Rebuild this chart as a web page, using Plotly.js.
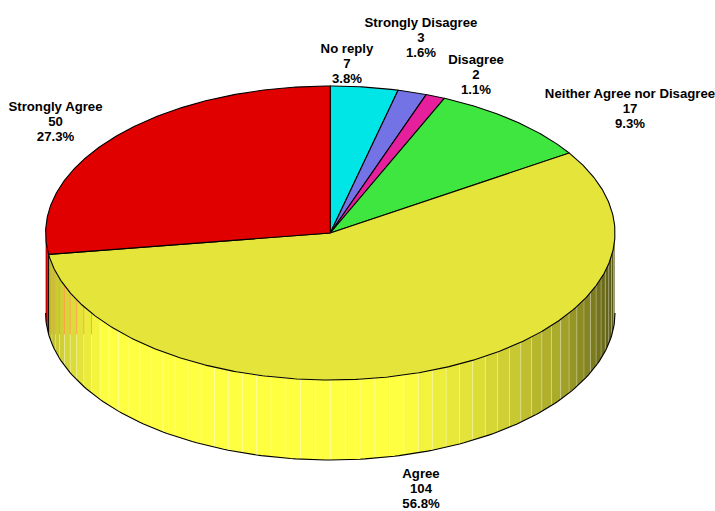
<!DOCTYPE html>
<html>
<head>
<meta charset="utf-8">
<script src="https://cdn.plot.ly/plotly-3.0.1.min.js"></script>
<style>html,body{margin:0;padding:0;background:#fff}#chart{width:715px;height:511px}</style>
</head>
<body>
<div id="chart"></div>
<script>
// Survey responses, clockwise from twelve o'clock
const categories = ['No reply', 'Strongly Disagree', 'Disagree', 'Neither Agree nor Disagree', 'Agree', 'Strongly Agree'];
const counts = [7, 3, 2, 17, 104, 50];
const sliceColors = ['#00e6e6', '#7373e6', '#e61f9c', '#40e640', '#e4e43a', '#e10000'];

// Top of each label block, in pixels
const labelX = [347, 421, 476, 630, 421, 55.5];
const labelY = [49.5, 23.5, 60.5, 94.5, 474.5, 107.5];
const labelLineStep = 15;

// Tilted disc geometry
const cx = 330.3, cy = 233, rx = 284.7, ry = 147, depth = 80;
const facetStep = 3;

const total = counts.reduce((a, b) => a + b, 0);
const rad = d => d * Math.PI / 180;
const px = t => cx + rx * Math.sin(rad(t));
const py = t => cy - ry * Math.cos(rad(t));

// Wall brightness by angle away from six o'clock (negative = left)
const shadeStops = [[-90, 0.74], [-84, 0.78], [-72, 0.9], [-63, 0.98], [-57, 1.05], [-52, 1.12], [15, 1.12], [20, 1.06],
  [29, 0.99], [39, 0.9], [44.5, 0.82], [54, 0.73], [61, 0.62], [71, 0.5], [81, 0.4], [90, 0.33]];
function shade(a) {
  for (let i = 1; i < shadeStops.length; i++) {
    if (a <= shadeStops[i][0]) {
      const [a0, s0] = shadeStops[i - 1], [a1, s1] = shadeStops[i];
      return s0 + (s1 - s0) * (a - a0) / (a1 - a0);
    }
  }
  return shadeStops[shadeStops.length - 1][1];
}
function shadedColor(hex, f) {
  const ch = [1, 3, 5].map(i => Math.min(255, Math.round(parseInt(hex.substr(i, 2), 16) * f)));
  return `rgb(${ch.join(',')})`;
}

// Slice spans in degrees
const spans = [];
let running = 0;
counts.forEach(v => { const s = running; running += v; spans.push([s / total * 360, running / total * 360]); });

const traces = [];
const poly = (xs, ys, fill, line) => traces.push({
  type: 'scatter', mode: 'lines', x: xs, y: ys, fill: 'toself', fillcolor: fill,
  line: line || { width: 0 }, hoverinfo: 'skip', showlegend: false
});
function stroke(xs, ys, color, width) {
  traces.push({ type: 'scatter', mode: 'lines', x: xs, y: ys, line: { color, width }, hoverinfo: 'skip', showlegend: false });
}

// Outer wall: one flat facet per step on the visible half
spans.forEach(([s, e], i) => {
  const from = Math.max(s, 90), to = Math.min(e, 270);
  if (to <= from) return;
  let t = from;
  while (t < to - 1e-6) {
    const next = Math.min(to, (Math.floor(t / facetStep + 1e-6) + 1) * facetStep);
    const f = shade(180 - (t + next) / 2);
    const xs = [], ys = [];
    for (let u = t; u <= next + 1e-6; u += (next - t) / 3) { xs.push(px(u)); ys.push(py(u)); }
    for (let u = next; u >= t - 1e-6; u -= (next - t) / 3) { xs.push(px(u)); ys.push(py(u) + depth); }
    poly(xs, ys, shadedColor(sliceColors[i], i === 5 ? 0.88 : f));
    t = next;
  }
});

// Seams between wall facets
const agreeEnd = spans[4][1];
const seamX = [], seamY = [], warmX = [], warmY = [];
for (let t = 93; t < agreeEnd; t += facetStep) {
  seamX.push(px(t), px(t), null);
  seamY.push(py(t), py(t) + depth, null);
  // Left-hand seams pick up the neighbouring red wall down to its lower edge
  if (t > 180 + 56 && t < agreeEnd) {
    warmX.push(px(t), px(t), null);
    warmY.push(py(t), py(agreeEnd) + depth, null);
  }
}
stroke(seamX, seamY, 'rgba(255,255,255,0.27)', 1);
stroke(warmX, warmY, 'rgba(255,140,40,0.7)', 1);

// Edge of the wall where the two large slices meet
stroke([px(agreeEnd), px(agreeEnd)], [py(agreeEnd), py(agreeEnd) + depth], '#000', 1);

// Lower rim of the wall
const rimX = [], rimY = [];
for (let t = 90; t <= 270; t += 1) { rimX.push(px(t)); rimY.push(py(t) + depth); }
stroke(rimX, rimY, '#000', 1.1);

// Top face wedges
spans.forEach(([s, e], i) => {
  const xs = [cx], ys = [cy];
  const n = Math.max(4, Math.ceil((e - s) / 0.5));
  for (let k = 0; k <= n; k++) { const t = s + (e - s) * k / n; xs.push(px(t)); ys.push(py(t)); }
  xs.push(cx); ys.push(cy);
  poly(xs, ys, sliceColors[i], { color: '#000', width: 1.1 });
});

// Labels: name, count and share on separate lines
const tx = [], ty = [], tt = [];
categories.forEach((c, i) => {
  [c, String(counts[i]), (counts[i] / total * 100).toFixed(1) + '%'].forEach((line, k) => {
    tx.push(labelX[i]); ty.push(labelY[i] + k * labelLineStep); tt.push(line);
  });
});
traces.push({
  type: 'scatter', mode: 'text', x: tx, y: ty, text: tt, textposition: 'middle center',
  textfont: { family: '"Liberation Sans", Arial, sans-serif', size: 13.2, color: '#000', weight: 700 },
  hoverinfo: 'skip', showlegend: false, cliponaxis: true
});

Plotly.newPlot('chart', traces, {
  width: 715, height: 511, margin: { l: 0, r: 0, t: 0, b: 0 },
  paper_bgcolor: '#fff', plot_bgcolor: '#fff', showlegend: false,
  xaxis: { range: [0, 715], visible: false, fixedrange: true },
  yaxis: { range: [511, 0], visible: false, fixedrange: true }
}, { displayModeBar: false, staticPlot: true });
</script>
</body>
</html>
